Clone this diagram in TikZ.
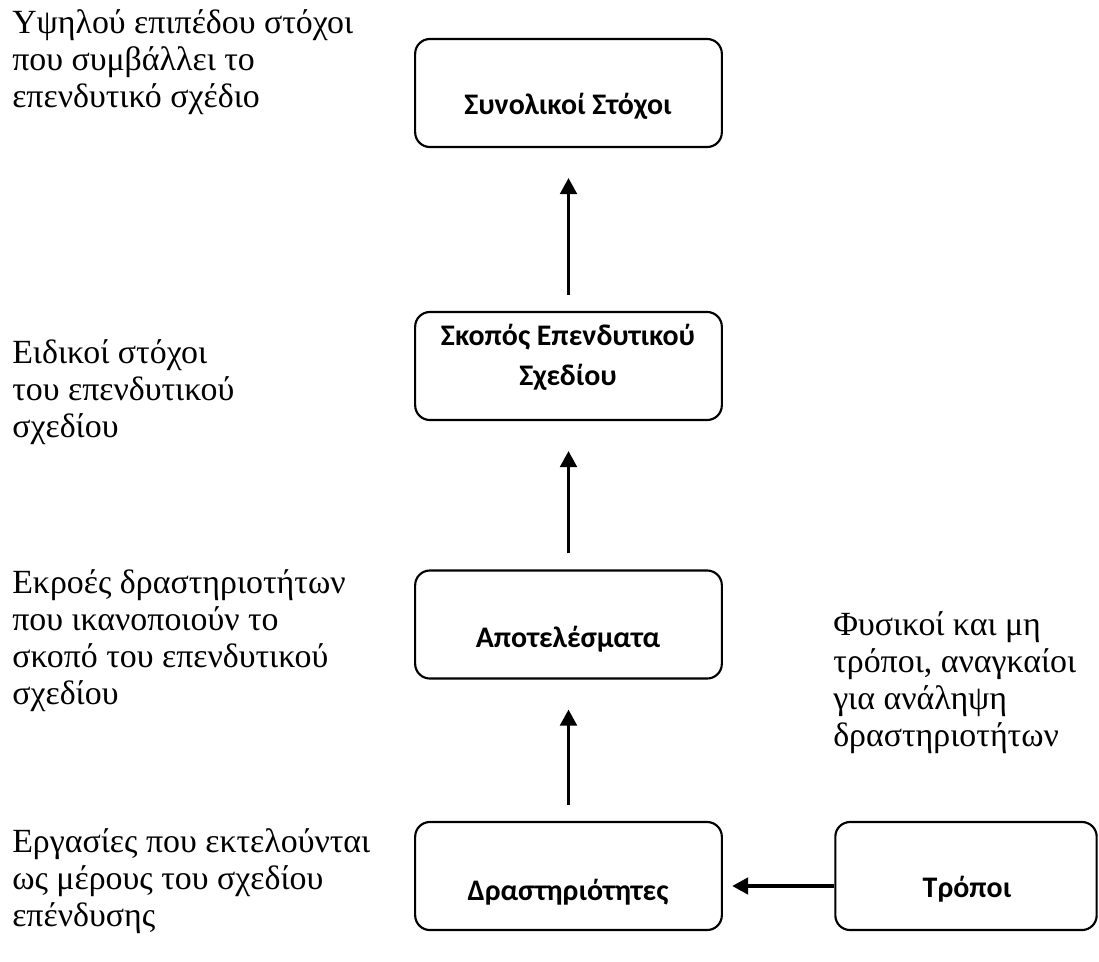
\documentclass[tikz,border=0pt]{standalone}
\usepackage{fontspec}
\setmainfont{Liberation Serif}
\newfontfamily\boxfont{Carlito}
\usepackage{tikz}
\usetikzlibrary{arrows.meta}

\begin{document}
\begin{tikzpicture}[x=0.75pt, y=-0.75pt,
  box/.style={draw, line width=1.6pt, rounded corners=11pt, minimum width=230pt, minimum height=81pt},
  boxtext/.style={anchor=base, align=center, inner sep=0pt, font=\boxfont\bfseries\fontsize{22.4}{30}\selectfont},
  side/.style={anchor=base west, align=left, inner sep=0pt, font=\fontsize{25.4}{27.75}\selectfont},
  up/.style={-{Triangle[length=12pt,width=12.5pt]}, line width=2.3pt, shorten >=22.5pt, shorten <=12pt}]
  \useasboundingbox (0,0) rectangle (1099,961);
  \node[box] (goals)   at (568.5,93)  {};
  \node[box] (aim)     at (568.5,366) {};
  \node[box] (results) at (568.5,624.5) {};
  \node[box] (acts)    at (568.5,876) {};
  \node[box, minimum width=196pt] (means) at (966,876) {};
  \node[boxtext] (goalsT)   at (568,114) {Συνολικοί Στόχοι};
  \node[boxtext] (aimT)     at (568,385) {Σκοπός Επενδυτικού\\Σχεδίου};
  \node[boxtext] (resultsT) at (568,647) {Αποτελέσματα};
  \node[boxtext] (actsT)    at (568,900) {Δραστηριότητες};
  \node[boxtext] (meansT)   at (967,897) {Τρόποι};
  % side notes
  \node[side] (goalsN)   at (12,107) {Υψηλού επιπέδου στόχοι\\που συμβάλλει το\\επενδυτικό σχέδιο};
  \node[side] (aimN)     at (12,437) {Ειδικοί στόχοι\\του επενδυτικού\\σχεδίου};
  \node[side] (resultsN) at (12,704) {Εκροές δραστηριοτήτων\\που ικανοποιούν το\\σκοπό του επενδυτικού\\σχεδίου};
  \node[side] (actsN)    at (12,926) {Εργασίες που εκτελούνται\\ως μέρους του σχεδίου\\επένδυσης};
  \node[side] (meansN)   at (833,746) {Φυσικοί και μη\\τρόποι, αναγκαίοι\\για ανάληψη\\δραστηριοτήτων};
  \draw[up] (aim.north) -- (goals.south);
  \draw[up] (results.north) -- (aim.south);
  \draw[up] (acts.north) -- (results.south);
  \draw[up, shorten <=0pt, shorten >=7pt] ([yshift=-7.5pt]means.west) -- ([yshift=-7.5pt]acts.east);
\end{tikzpicture}
\end{document}
